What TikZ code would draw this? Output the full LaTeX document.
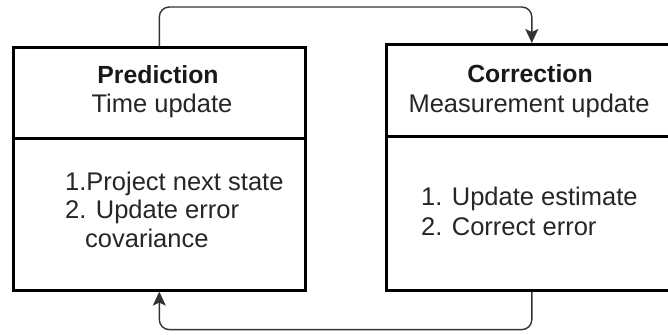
\documentclass[tikz,border=0pt]{standalone}
\usepackage{fontspec}
\setmainfont{Liberation Sans}
\usetikzlibrary{arrows.meta}
\begin{document}
\begin{tikzpicture}[x=1pt,y=-1pt,
  boxpart/.style={draw=black, line width=2.6pt, rectangle, inner sep=0pt, anchor=north west, fill=white},
  txt/.style={anchor=base west, inner sep=0pt, text=black!85, font=\fontsize{25.5}{29}\selectfont},
  ctxt/.style={anchor=base, inner sep=0pt, text=black!85, font=\fontsize{25.5}{29}\selectfont},
  btxt/.style={anchor=base, inner sep=0pt, text=black!90, font=\fontsize{24.8}{29}\selectfont\bfseries},
  conn/.style={draw=black!80, line width=1.4pt, rounded corners=10pt, -{Stealth[length=14pt,width=13pt,inset=3pt]}}]
\useasboundingbox (0,0) rectangle (668,334);
\clip (0,0) rectangle (668,334);
% left box
\node[boxpart, minimum width=292pt, minimum height=91pt] (lhead) at (12,46) {};
\node[boxpart, minimum width=292pt, minimum height=152pt] (lbody) at (12,137) {};
% right box
\node[boxpart, minimum width=291pt, minimum height=92pt] (rhead) at (385,43) {};
\node[boxpart, minimum width=291pt, minimum height=154pt] (rbody) at (385,135) {};
% header texts
\node[btxt] (pred) at (158,84) {Prediction};
\node[ctxt] (predsub) at (162,113) {Time update};
\node[btxt] (corr) at (530,83) {Correction};
\node[ctxt] (corrsub) at (529,113) {Measurement update};
% body texts
\node[txt] (l1) at (65,190) {1.Project next state};
\node[txt] (l2) at (65,218) {2. Update error};
\node[txt] (l3) at (85,247) {covariance};
\node[txt] (r1) at (421,205) {1. Update estimate};
\node[txt] (r2) at (421,235) {2. Correct error};
% connectors
\draw[conn] (lhead.north) -- ++(0,-39) -| (rhead.north);
\draw[conn] (rbody.south) -- ++(0,38) -| (lbody.south);
\end{tikzpicture}
\end{document}
